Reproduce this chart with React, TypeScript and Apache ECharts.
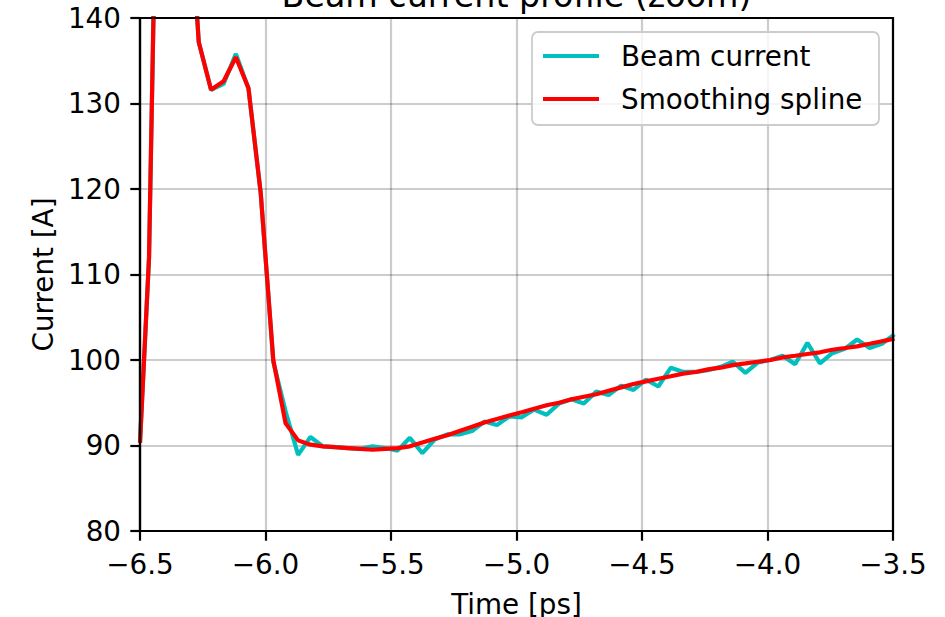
import React, { useEffect, useRef } from "react";
import * as echarts from "echarts";

const times = [
  -6.500, -6.464, -6.415, -6.365, -6.316, -6.266, -6.217, -6.167, -6.118, -6.068, -6.019,
  -5.969, -5.920, -5.870, -5.821, -5.771, -5.722, -5.672, -5.623, -5.573, -5.524,
  -5.474, -5.425, -5.375, -5.326, -5.276, -5.227, -5.177, -5.128, -5.078, -5.029,
  -4.979, -4.930, -4.880, -4.831, -4.781, -4.732, -4.682, -4.633, -4.583, -4.534,
  -4.484, -4.435, -4.385, -4.336, -4.286, -4.237, -4.187, -4.138, -4.088, -4.039,
  -3.989, -3.940, -3.890, -3.841, -3.791, -3.742, -3.692, -3.643, -3.593, -3.544,
  -3.494,
];

const beamCurrent = [
  90.3, 112.0, 190.0, 195.0, 160.0, 137.2, 131.6, 132.3, 135.8, 131.8, 119.5,
  99.8, 94.0, 88.9, 91.0, 89.9, 89.8, 89.7, 89.6, 89.9, 89.7,
  89.4, 90.9, 89.1, 90.7, 91.3, 91.3, 91.7, 92.8, 92.4, 93.4,
  93.3, 94.2, 93.6, 94.9, 95.4, 94.9, 96.3, 95.9, 97.0, 96.5,
  97.7, 96.9, 99.1, 98.6, 98.6, 98.8, 99.2, 99.8, 98.5, 99.7,
  100.0, 100.5, 99.5, 102.0, 99.6, 100.8, 101.3, 102.4, 101.4, 101.9,
  103.0,
];

const smoothing = [
  90.3, 112.0, 190.0, 195.0, 160.0, 137.2, 131.6, 132.6, 135.4, 131.8, 119.5,
  100.0, 92.6, 90.6, 90.1, 89.9, 89.8, 89.7, 89.6, 89.5, 89.6,
  89.7, 89.9, 90.35, 90.8, 91.2, 91.7, 92.2, 92.7, 93.1, 93.5,
  93.9, 94.3, 94.7, 95.0, 95.4, 95.7, 96.0, 96.4, 96.8, 97.2,
  97.5, 97.8, 98.1, 98.4, 98.6, 98.9, 99.1, 99.4, 99.6, 99.8,
  100.0, 100.3, 100.5, 100.7, 100.9, 101.2, 101.4, 101.6, 101.9, 102.2,
  102.5,
];

const seriesNames = ["Beam current", "Smoothing spline"];
const titleText = "Beam current profile (zoom)";
const xName = "Time [ps]";
const yName = "Current [A]";

const FONT = "DejaVu Sans";
const FS = 27.8;

function fmt(v: number, digits: number) {
  return v.toFixed(digits).replace("-", "\u2212");
}

export default function App() {
  const ref = useRef<HTMLDivElement>(null);
  useEffect(() => {
    if (!ref.current) return;
    const chart = echarts.init(ref.current, null, { renderer: "svg" });
    const toPairs = (ys: number[]) => times.map((t, i) => [t, ys[i]]);
    const gridLine = { show: true, lineStyle: { color: "rgba(0,0,0,0.2)", width: 2.2 } };
    const axisLine = { show: true, onZero: false, lineStyle: { color: "#000", width: 2.2 } };
    const axisTick = { show: true, length: 9.7, lineStyle: { color: "#000", width: 2.2 } };
    chart.setOption({
      animation: false,
      backgroundColor: "#ffffff",
      grid: {
        left: 140,
        top: 18,
        width: 753,
        height: 513,
        show: true,
        borderColor: "#000",
        borderWidth: 2.2,
        backgroundColor: "transparent",
        outerBoundsMode: "none",
        containLabel: false,
        z: 3,
      },
      graphic: [
        {
          type: "text",
          x: 516.5,
          y: -4.3,
          z: 10,
          style: {
            text: titleText,
            align: "center",
            verticalAlign: "middle",
            fontFamily: FONT,
            fontSize: 33.3,
            fill: "#000",
          },
        },
        {
          type: "rect",
          z: 3,
          shape: { x: 532, y: 32, width: 347, height: 93, r: 6 },
          style: { fill: "rgba(255,255,255,0.8)", stroke: "#cccccc", lineWidth: 1.8 },
        },
      ],
      legend: {
        data: seriesNames,
        orient: "vertical",
        left: 543,
        top: 41.5,
        icon: "rect",
        itemWidth: 56,
        itemHeight: 4.2,
        itemGap: 14,
        padding: 0,
        z: 5,
        textStyle: {
          fontFamily: FONT,
          fontSize: FS,
          lineHeight: 29,
          color: "#000",
          padding: [0, 0, 0, 17],
        },
      },
      xAxis: {
        type: "value",
        min: -6.5,
        max: -3.5,
        interval: 0.5,
        name: xName,
        nameLocation: "middle",
        nameGap: 60,
        nameTextStyle: { fontFamily: FONT, fontSize: FS, lineHeight: 26, color: "#000" },
        axisLine,
        axisTick,
        axisLabel: {
          margin: 19,
          fontFamily: FONT,
          fontSize: FS,
          color: "#000",
          formatter: (v: number) => fmt(v, 1),
        },
        splitLine: gridLine,
      },
      yAxis: {
        type: "value",
        min: 80,
        max: 140,
        interval: 10,
        name: yName,
        nameLocation: "middle",
        nameGap: 77,
        nameRotate: 90,
        nameTextStyle: { fontFamily: FONT, fontSize: FS, color: "#000" },
        axisLine,
        axisTick,
        axisLabel: {
          margin: 19,
          fontFamily: FONT,
          fontSize: FS,
          color: "#000",
          formatter: (v: number) => fmt(v, 0),
        },
        splitLine: gridLine,
      },
      series: [
        {
          name: seriesNames[0],
          type: "line",
          data: toPairs(beamCurrent),
          symbol: "none",
          clip: true,
          lineStyle: { color: "#00bfbf", width: 4.2 },
          itemStyle: { color: "#00bfbf" },
          z: 2,
        },
        {
          name: seriesNames[1],
          type: "line",
          data: toPairs(smoothing),
          symbol: "none",
          clip: true,
          lineStyle: { color: "#ff0000", width: 4.2 },
          itemStyle: { color: "#ff0000" },
          z: 2,
        },
      ],
    });
    return () => chart.dispose();
  }, []);
  return (
    <div
      ref={ref}
      style={{ position: "fixed", left: 0, top: 0, width: 945, height: 617 }}
    />
  );
}
